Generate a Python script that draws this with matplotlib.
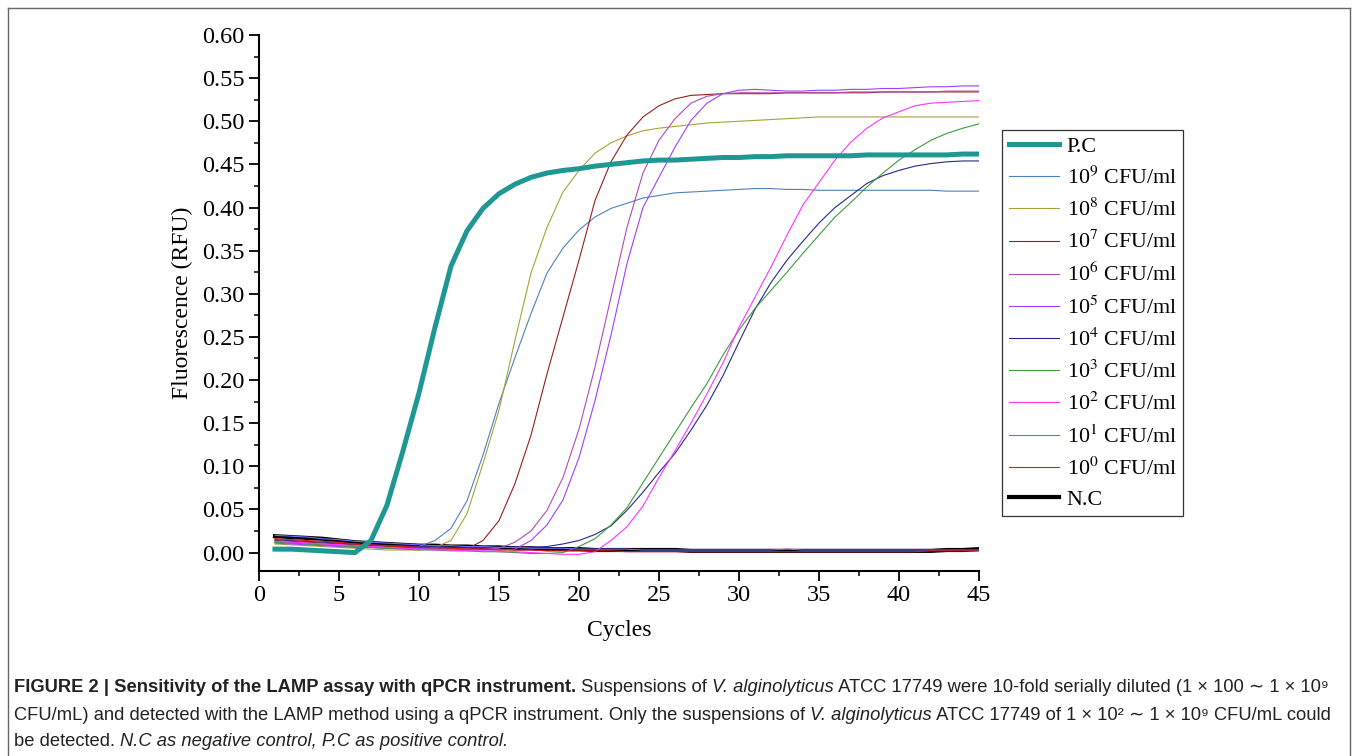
import matplotlib
matplotlib.use("Agg")
import matplotlib.pyplot as plt
from matplotlib.lines import Line2D
from matplotlib.ticker import MultipleLocator, FormatStrFormatter

plt.rcParams['font.family'] = ['Liberation Serif', 'DejaVu Serif']
plt.rcParams['mathtext.fontset'] = 'stix'

cycles = list(range(1, 46))

# fluorescence (RFU) per cycle
pc = [0.004, 0.004, 0.003, 0.002, 0.001, 0.000, 0.014, 0.055, 0.118, 0.185,
      0.261, 0.332, 0.373, 0.399, 0.416, 0.427, 0.435, 0.440, 0.443, 0.445,
      0.448, 0.450, 0.452, 0.454, 0.455, 0.455, 0.456, 0.457, 0.458, 0.458,
      0.459, 0.459, 0.460, 0.460, 0.460, 0.460, 0.460, 0.461, 0.461, 0.461,
      0.461, 0.461, 0.461, 0.462, 0.462]
e9 = [0.012, 0.011, 0.010, 0.009, 0.008, 0.007, 0.006, 0.005, 0.005, 0.007,
      0.014, 0.028, 0.060, 0.113, 0.173, 0.226, 0.277, 0.324, 0.353, 0.374,
      0.389, 0.399, 0.405, 0.411, 0.414, 0.417, 0.418, 0.419, 0.420, 0.421,
      0.422, 0.422, 0.421, 0.421, 0.420, 0.420, 0.420, 0.420, 0.420, 0.420,
      0.420, 0.420, 0.419, 0.419, 0.419]
e8 = [0.010, 0.009, 0.008, 0.007, 0.006, 0.005, 0.004, 0.003, 0.003, 0.003,
      0.006, 0.014, 0.045, 0.103, 0.165, 0.246, 0.324, 0.377, 0.418, 0.443,
      0.463, 0.475, 0.483, 0.489, 0.492, 0.494, 0.496, 0.498, 0.499, 0.500,
      0.501, 0.502, 0.503, 0.504, 0.505, 0.505, 0.505, 0.505, 0.505, 0.505,
      0.505, 0.505, 0.505, 0.505, 0.505]
e7 = [0.014, 0.013, 0.012, 0.011, 0.010, 0.009, 0.008, 0.007, 0.006, 0.005,
      0.005, 0.004, 0.004, 0.014, 0.037, 0.080, 0.136, 0.207, 0.273, 0.339,
      0.408, 0.453, 0.484, 0.505, 0.518, 0.526, 0.530, 0.531, 0.532, 0.532,
      0.532, 0.532, 0.533, 0.533, 0.533, 0.533, 0.533, 0.533, 0.534, 0.534,
      0.534, 0.534, 0.534, 0.534, 0.534]
e6 = [0.013, 0.012, 0.011, 0.010, 0.009, 0.008, 0.007, 0.006, 0.005, 0.005,
      0.004, 0.004, 0.004, 0.004, 0.005, 0.012, 0.025, 0.049, 0.087, 0.143,
      0.215, 0.296, 0.377, 0.440, 0.478, 0.503, 0.521, 0.529, 0.532, 0.533,
      0.533, 0.533, 0.533, 0.533, 0.533, 0.533, 0.534, 0.534, 0.534, 0.534,
      0.534, 0.534, 0.535, 0.535, 0.535]
e5 = [0.011, 0.010, 0.009, 0.008, 0.007, 0.006, 0.006, 0.005, 0.005, 0.004,
      0.004, 0.004, 0.003, 0.003, 0.003, 0.004, 0.014, 0.032, 0.061, 0.110,
      0.176, 0.252, 0.335, 0.400, 0.435, 0.470, 0.501, 0.521, 0.532, 0.536,
      0.537, 0.536, 0.535, 0.535, 0.536, 0.536, 0.537, 0.537, 0.538, 0.538,
      0.539, 0.540, 0.540, 0.541, 0.541]
e4 = [0.015, 0.014, 0.013, 0.012, 0.011, 0.010, 0.009, 0.008, 0.008, 0.007,
      0.007, 0.006, 0.006, 0.006, 0.006, 0.006, 0.006, 0.007, 0.010, 0.014,
      0.021, 0.031, 0.049, 0.070, 0.093, 0.115, 0.142, 0.171, 0.205, 0.244,
      0.282, 0.313, 0.339, 0.361, 0.382, 0.400, 0.414, 0.428, 0.437, 0.443,
      0.448, 0.451, 0.453, 0.454, 0.454]
e3 = [0.012, 0.011, 0.010, 0.009, 0.008, 0.007, 0.006, 0.005, 0.004, 0.003,
      0.003, 0.002, 0.002, 0.001, 0.001, 0.000, -0.001, -0.001, 0.000, 0.007,
      0.016, 0.032, 0.052, 0.081, 0.110, 0.139, 0.168, 0.196, 0.229, 0.258,
      0.283, 0.304, 0.325, 0.347, 0.368, 0.389, 0.406, 0.424, 0.440, 0.455,
      0.467, 0.478, 0.486, 0.492, 0.497]
e2 = [0.013, 0.012, 0.011, 0.010, 0.009, 0.008, 0.007, 0.006, 0.005, 0.004,
      0.003, 0.003, 0.002, 0.002, 0.001, 0.001, 0.000, -0.001, -0.002, -0.002,
      0.001, 0.014, 0.030, 0.054, 0.087, 0.118, 0.150, 0.184, 0.220, 0.261,
      0.296, 0.331, 0.368, 0.403, 0.429, 0.455, 0.476, 0.492, 0.504, 0.511,
      0.518, 0.521, 0.522, 0.523, 0.524]
e1 = [0.020, 0.019, 0.018, 0.016, 0.015, 0.013, 0.012, 0.011, 0.010, 0.009,
      0.008, 0.008, 0.007, 0.007, 0.006, 0.006, 0.005, 0.005, 0.005, 0.004,
      0.004, 0.004, 0.004, 0.003, 0.003, 0.003, 0.003, 0.003, 0.003, 0.003,
      0.003, 0.003, 0.004, 0.003, 0.003, 0.003, 0.003, 0.003, 0.003, 0.003,
      0.003, 0.003, 0.003, 0.003, 0.003]
e0 = [0.016, 0.015, 0.014, 0.013, 0.012, 0.010, 0.009, 0.008, 0.007, 0.006,
      0.006, 0.005, 0.004, 0.004, 0.003, 0.003, 0.003, 0.002, 0.002, 0.002,
      0.002, 0.002, 0.001, 0.001, 0.001, 0.001, 0.001, 0.001, 0.001, 0.001,
      0.001, 0.001, 0.001, 0.001, 0.001, 0.001, 0.001, 0.001, 0.001, 0.001,
      0.001, 0.002, 0.002, 0.002, 0.002]
nc = [0.019, 0.018, 0.017, 0.016, 0.014, 0.012, 0.011, 0.010, 0.009, 0.008,
      0.008, 0.007, 0.007, 0.006, 0.006, 0.005, 0.005, 0.004, 0.004, 0.004,
      0.003, 0.003, 0.003, 0.003, 0.003, 0.003, 0.002, 0.002, 0.002, 0.002,
      0.002, 0.002, 0.002, 0.002, 0.002, 0.002, 0.002, 0.002, 0.002, 0.002,
      0.002, 0.002, 0.003, 0.003, 0.004]

labels = ['P.C'] + [r'10$^{%d}$ CFU/ml' % k for k in range(9, -1, -1)] + ['N.C']
series = [pc, e9, e8, e7, e6, e5, e4, e3, e2, e1, e0, nc]
colors = ['#1f9793', '#4f81bd', '#a6a338', '#962020', '#b44ab4', '#9f3fff',
          '#28288c', '#3c9b3c', '#ff33ff', '#6d6dff', '#e01818', '#000000']
widths = [3.6] + [0.8] * 10 + [3.0]
zorders = [5, 3, 3, 3, 3, 3, 3, 3, 3, 4, 4, 2.5]

fig = plt.figure(figsize=(13.58, 7.56), dpi=100)
ax = fig.add_axes([0.1907, 0.2451, 0.7209 - 0.1907, 0.9537 - 0.2451])

handles = []
for y, lab, c, w, z in zip(series, labels, colors, widths, zorders):
    h, = ax.plot(cycles, y, color=c, lw=w, label=lab, zorder=z)
    handles.append(h)

ax.set_xlim(0, 45)
ax.set_ylim(-0.021, 0.60)
ax.spines['top'].set_visible(False)
ax.spines['right'].set_visible(False)
ax.spines['left'].set_linewidth(1.5)
ax.spines['bottom'].set_linewidth(1.5)
ax.xaxis.set_major_locator(MultipleLocator(5))
ax.xaxis.set_minor_locator(MultipleLocator(2.5))
ax.yaxis.set_major_locator(MultipleLocator(0.05))
ax.yaxis.set_minor_locator(MultipleLocator(0.025))
ax.yaxis.set_major_formatter(FormatStrFormatter('%.2f'))
ax.tick_params(which='major', direction='out', length=7, width=1.3, labelsize=17.5)
ax.tick_params(which='minor', direction='out', length=3.6, width=1.1)
ax.set_xlabel('Cycles', fontsize=17, labelpad=10)
ax.set_ylabel('Fluorescence (RFU)', fontsize=17, labelpad=6)

leg = fig.legend(handles=handles, loc='upper left', bbox_to_anchor=(0.7378, 0.828),
                 bbox_transform=fig.transFigure, borderaxespad=0, fontsize=15.8,
                 fancybox=False, edgecolor='#333333', framealpha=1,
                 handlelength=2.3, handletextpad=0.35, labelspacing=0.45,
                 borderpad=0.3)
leg.get_frame().set_linewidth(0.9)

# outer frame of the figure panel
W, H = 1358.0, 756.0
for xs, ys in [((8, 8), (0, 748)), ((8, 1350), (748, 748)), ((1350, 1350), (748, 0))]:
    fig.add_artist(Line2D([v / W for v in xs], [v / H for v in ys],
                          color='#666666', lw=1.0, transform=fig.transFigure))

# caption with mixed styles, placed piece by piece
cap_fam = ['Liberation Sans', 'DejaVu Sans']
cap_size = 13.2
renderer = fig.canvas.get_renderer()


def put_line(x_px, y_px, pieces):
    x = x_px / W
    for s, weight, style in pieces:
        t = fig.text(x, 1 - y_px / H, s, fontsize=cap_size, family=cap_fam,
                     fontweight=weight, fontstyle=style, va='center', ha='left',
                     color='#222222')
        bb = t.get_window_extent(renderer=renderer)
        x += bb.width / W


put_line(14, 688, [
    ('FIGURE 2 | Sensitivity of the LAMP assay with qPCR instrument.', 'bold', 'normal'),
    (' Suspensions of ', 'normal', 'normal'),
    ('V. alginolyticus', 'normal', 'italic'),
    (' ATCC 17749 were 10-fold serially diluted (1 \u00d7 100 \u223c 1 \u00d7 10\u2079', 'normal', 'normal'),
])
put_line(14, 716, [
    ('CFU/mL) and detected with the LAMP method using a qPCR instrument. Only the suspensions of ', 'normal', 'normal'),
    ('V. alginolyticus', 'normal', 'italic'),
    (' ATCC 17749 of 1 \u00d7 10\u00b2 \u223c 1 \u00d7 10\u2079 CFU/mL could', 'normal', 'normal'),
])
put_line(14, 741, [
    ('be detected. ', 'normal', 'normal'),
    ('N.C as negative control, P.C as positive control.', 'normal', 'italic'),
])

fig.savefig('out.png', dpi=100)
